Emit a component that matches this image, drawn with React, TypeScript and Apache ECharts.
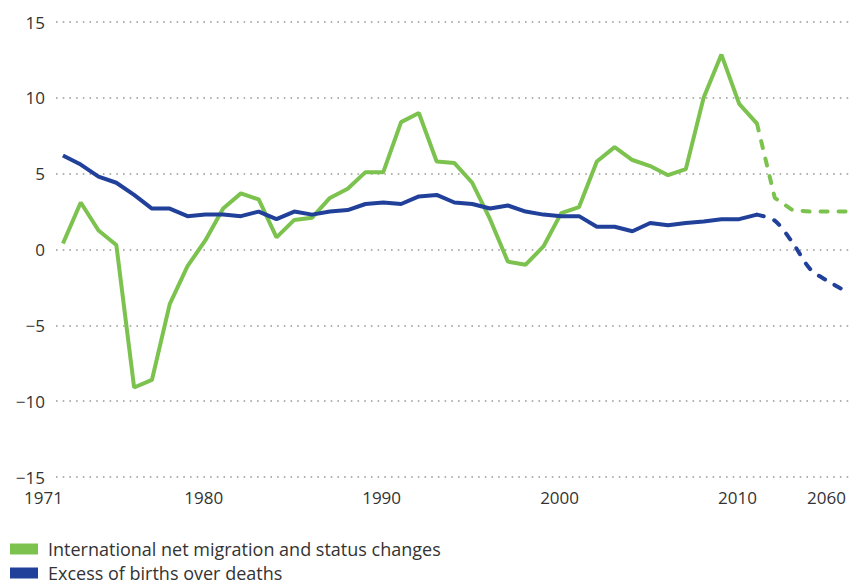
import React, { useEffect, useRef } from "react";
import * as echarts from "echarts";

// Historical years (annual) and projection horizon years
const histYears: number[] = [
  1971, 1972, 1973, 1974, 1975, 1976, 1977, 1978, 1979, 1980,
  1981, 1982, 1983, 1984, 1985, 1986, 1987, 1988, 1989, 1990,
  1991, 1992, 1993, 1994, 1995, 1996, 1997, 1998, 1999, 2000,
  2001, 2002, 2003, 2004, 2005, 2006, 2007, 2008, 2009, 2010,
];
const projYears: number[] = [2020, 2030, 2040, 2050, 2060];
const allYears: number[] = [...histYears, ...projYears];

const labelYears: number[] = [1971, 1980, 1990, 2000, 2010, 2060];
const yTicks: number[] = [-15, -10, -5, 0, 5, 10, 15];

// International net migration and status changes (per 1000)
const migration: number[] = [
  0.4, 3.1, 1.25, 0.3, -9.1, -8.6, -3.6, -1.1, 0.6, 2.7,
  3.7, 3.3, 0.8, 1.95, 2.1, 3.4, 4.0, 5.1, 5.1, 8.4,
  9.0, 5.8, 5.7, 4.4, 2.0, -0.8, -1.0, 0.2, 2.4, 2.8,
  5.8, 6.75, 5.9, 5.5, 4.9, 5.3, 10.0, 12.85, 9.6, 8.3,
];
const migrationProj: number[] = [3.4, 2.6, 2.5, 2.5, 2.5];

// Excess of births over deaths (per 1000)
const births: number[] = [
  6.2, 5.6, 4.8, 4.4, 3.6, 2.7, 2.7, 2.2, 2.3, 2.3,
  2.2, 2.5, 2.0, 2.5, 2.3, 2.5, 2.6, 3.0, 3.1, 3.0,
  3.5, 3.6, 3.1, 3.0, 2.7, 2.9, 2.5, 2.3, 2.2, 2.2,
  1.5, 1.5, 1.2, 1.75, 1.6, 1.75, 1.85, 2.0, 2.0, 2.3,
];
const birthsProj: number[] = [1.9, 0.45, -1.3, -2.1, -2.75];

const GREEN = "#7cc24e";
const BLUE = "#21409a";
const NAME_MIG = "International net migration and status changes";
const NAME_BIR = "Excess of births over deaths";
const FONT = "Open Sans";
const TEXT = "#333";

export default function App() {
  const ref = useRef<HTMLDivElement>(null);
  useEffect(() => {
    if (!ref.current) return;
    const chart = echarts.init(ref.current, undefined, { renderer: "svg" });
    const lastIdx = histYears.length - 1;
    const toPairs = (vals: number[], start: number) => vals.map((v, i) => [start + i, v]);
    const migSolid = toPairs(migration, 0);
    const migDash = [[lastIdx, migration[lastIdx]], ...toPairs(migrationProj, histYears.length)];
    const birSolid = toPairs(births, 0);
    const birDash = [[lastIdx, births[lastIdx]], ...toPairs(birthsProj, histYears.length)];
    const labelIdx = labelYears.map((y) => allYears.indexOf(y));

    const legendBase = {
      orient: "horizontal",
      left: 10,
      icon: "rect",
      itemWidth: 28,
      itemHeight: 11,
      padding: 0,
      textStyle: {
        fontFamily: FONT,
        fontSize: 18,
        color: TEXT,
        lineHeight: 18,
        padding: [0, 0, 0, 5],
      },
    };

    chart.setOption({
      animation: false,
      grid: { left: 56, right: 1, top: 22, bottom: 108 },
      xAxis: {
        type: "value",
        min: -0.39,
        max: allYears.length - 1 + 0.17,
        axisLine: { show: false },
        axisTick: { show: false },
        splitLine: { show: false },
        axisLabel: {
          customValues: labelIdx,
          formatter: (v: number) => String(allYears[Math.round(v)]),
          align: "right",
          margin: 12,
          fontFamily: FONT,
          fontSize: 17,
          color: TEXT,
        },
      },
      yAxis: {
        type: "value",
        min: yTicks[0],
        max: yTicks[yTicks.length - 1],
        interval: 5,
        axisLine: { show: false },
        axisTick: { show: false },
        axisLabel: {
          margin: 11,
          fontFamily: FONT,
          fontSize: 17,
          color: TEXT,
          formatter: (v: number) => (v < 0 ? "\u2212" + Math.abs(v) : String(v)),
        },
        splitLine: {
          show: true,
          lineStyle: { color: "#999", width: 1.6, type: [1.6, 5.1] },
        },
      },
      legend: [
        { ...legendBase, top: 540, data: [NAME_MIG] },
        { ...legendBase, top: 564, data: [NAME_BIR] },
      ],
      series: [
        {
          name: NAME_MIG,
          type: "line",
          data: migSolid,
          symbol: "none",
          color: GREEN,
          lineStyle: { width: 4, color: GREEN },
        },
        {
          name: NAME_BIR,
          type: "line",
          data: birSolid,
          symbol: "none",
          color: BLUE,
          lineStyle: { width: 4, color: BLUE },
        },
        {
          name: NAME_MIG,
          type: "line",
          data: migDash,
          symbol: "none",
          color: GREEN,
          lineStyle: { width: 4, color: GREEN, type: [7, 11], cap: "round" },
        },
        {
          name: NAME_BIR,
          type: "line",
          data: birDash,
          symbol: "none",
          smooth: 0.3,
          color: BLUE,
          lineStyle: { width: 4, color: BLUE, type: [7, 11], cap: "round" },
        },
      ],
    });
    return () => chart.dispose();
  }, []);
  return (
    <div
      ref={ref}
      style={{ position: "fixed", left: 0, top: 0, width: 850, height: 585, background: "#fff" }}
    />
  );
}
